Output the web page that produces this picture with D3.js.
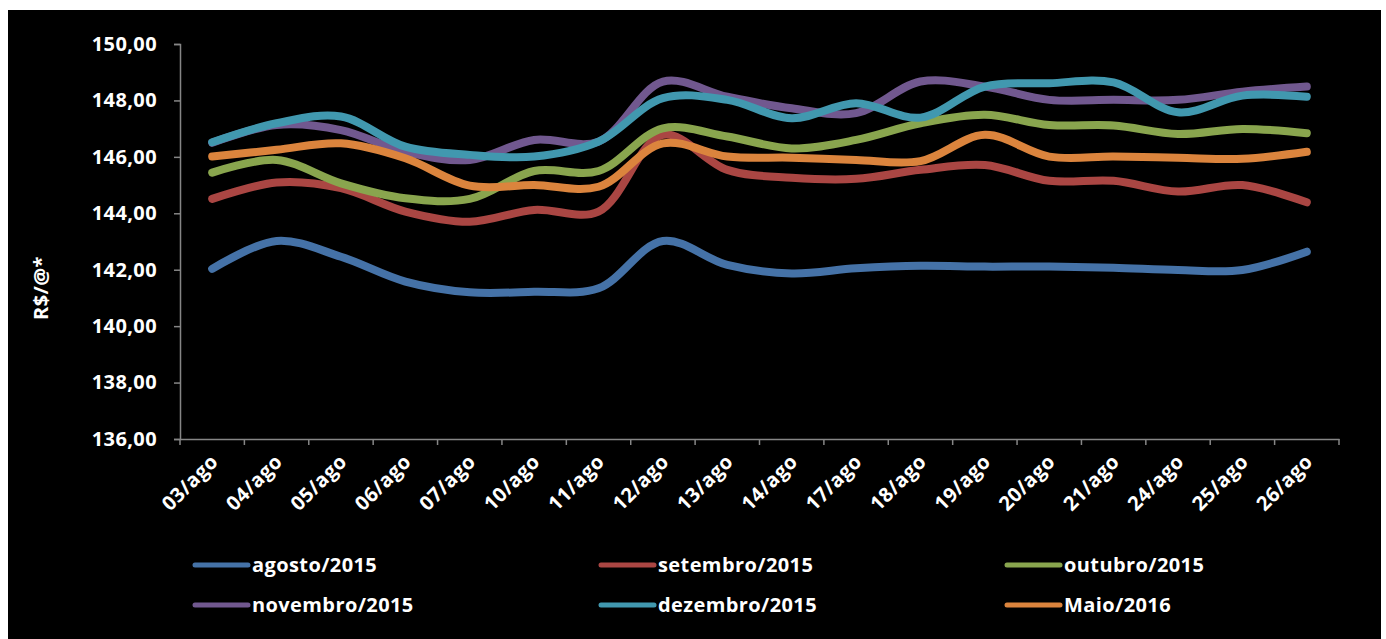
<head></head>
<body style="margin:0; background:#fff;">
    <div id="chart"></div>
    <script src="https://cdn.jsdelivr.net/npm/d3@7"></script>
    <script>
        var width = 1386,
            height = 639;

        var categories = ['03/ago', '04/ago', '05/ago', '06/ago', '07/ago', '10/ago', '11/ago', '12/ago', '13/ago',
            '14/ago', '17/ago', '18/ago', '19/ago', '20/ago', '21/ago', '24/ago', '25/ago', '26/ago'];

        var agosto2015 = [142.03, 143.02, 142.46, 141.58, 141.20, 141.22, 141.34, 143.02, 142.17, 141.87, 142.05, 142.14, 142.11, 142.11, 142.07, 141.99, 141.99, 142.64];
        var setembro2015 = [144.51, 145.09, 144.89, 144.06, 143.70, 144.12, 144.06, 146.78, 145.54, 145.26, 145.22, 145.54, 145.71, 145.15, 145.15, 144.77, 145.00, 144.39];
        var outubro2015 = [145.44, 145.89, 145.06, 144.53, 144.51, 145.50, 145.50, 147.01, 146.72, 146.30, 146.60, 147.19, 147.49, 147.13, 147.11, 146.81, 146.99, 146.84];
        var novembro2015 = [146.50, 147.13, 146.95, 146.18, 145.89, 146.60, 146.54, 148.67, 148.13, 147.72, 147.55, 148.67, 148.49, 148.02, 148.02, 148.02, 148.31, 148.49];
        var dezembro2015 = [146.52, 147.19, 147.43, 146.36, 146.07, 146.01, 146.54, 148.08, 148.02, 147.37, 147.90, 147.39, 148.49, 148.61, 148.64, 147.58, 148.17, 148.13];
        var maio2016 = [146.01, 146.25, 146.48, 145.95, 144.98, 145.00, 144.94, 146.48, 146.01, 145.97, 145.89, 145.85, 146.78, 146.01, 146.01, 145.97, 145.93, 146.18];

        var seriesNames = ['agosto/2015', 'setembro/2015', 'outubro/2015', 'novembro/2015', 'dezembro/2015', 'Maio/2016'];
        var seriesValues = [agosto2015, setembro2015, outubro2015, novembro2015, dezembro2015, maio2016];
        var colors = ['#4572a7', '#aa4643', '#89a54e', '#71588f', '#4198af', '#db843d'];

        var yTicks = [136, 138, 140, 142, 144, 146, 148, 150];

        var series = seriesNames.map(function(n, i){
            return {name: n, values: seriesValues[i], color: colors[i]};
        });

        var svg = d3.select('#chart')
            .append('svg')
            .attr('width', width)
            .attr('height', height)
            .style('display', 'block');

        // black chart area
        svg.append('rect')
            .attr('x', 8).attr('y', 10)
            .attr('width', 1373).attr('height', 629)
            .attr('fill', '#000');

        var x = d3.scaleBand()
            .domain(categories)
            .range([180, 1339]);

        var y = d3.scaleLinear()
            .domain([136, 150])
            .range([439, 44]);

        var font = "'Open Sans', sans-serif";
        var axisColor = '#868686';

        function styleText(sel){
            sel.attr('fill', '#fff')
                .style('font-family', font)
                .style('font-weight', 'bold')
                .style('font-size', '20px')
                .style('letter-spacing', '0.4px');
        }

        // y axis
        var yAxis = svg.append('g')
            .attr('transform', 'translate(180,0)')
            .call(d3.axisLeft(y).tickValues(yTicks).tickSize(6).tickPadding(17)
                .tickFormat(function(d){ return d3.format('.2f')(d).replace('.', ','); }));

        // x axis, ticks between categories
        var xAxis = svg.append('g')
            .attr('transform', 'translate(0,439)')
            .call(d3.axisBottom(x).tickSize(0).tickFormat(''));

        xAxis.selectAll('.tick').remove();
        xAxis.selectAll('.sep')
            .data(d3.range(categories.length + 1))
            .enter().append('line')
            .attr('x1', function(i){ return 180 + i * x.step(); })
            .attr('x2', function(i){ return 180 + i * x.step(); })
            .attr('y1', 0).attr('y2', 6)
            .attr('stroke', axisColor)
            .attr('stroke-width', 1.5);

        svg.selectAll('.domain').attr('stroke', axisColor).attr('stroke-width', 1.5);
        yAxis.selectAll('line').attr('stroke', axisColor).attr('stroke-width', 1.5);
        yAxis.selectAll('text').call(styleText);

        // x labels rotated
        svg.append('g').selectAll('text')
            .data(categories)
            .enter().append('text')
            .attr('transform', function(d){
                return 'translate(' + (x(d) + x.bandwidth() / 2 + 7) + ',463) rotate(-45)';
            })
            .attr('text-anchor', 'end')
            .call(styleText)
            .text(function(d){ return d; });

        // axis title
        svg.append('text')
            .attr('transform', 'translate(48,288) rotate(-90)')
            .attr('text-anchor', 'middle')
            .call(styleText)
            .text('R$/@*');

        var line = d3.line()
            .x(function(d, i){ return x(categories[i]) + x.bandwidth() / 2; })
            .y(function(d){ return y(d); })
            .curve(d3.curveCatmullRom.alpha(0.5));

        svg.append('g').selectAll('path')
            .data(series)
            .enter().append('path')
            .attr('d', function(d){ return line(d.values); })
            .attr('fill', 'none')
            .attr('stroke', function(d){ return d.color; })
            .attr('stroke-width', 8)
            .attr('stroke-linecap', 'round')
            .attr('stroke-linejoin', 'round');

        // legend
        var legendX = [195, 601, 1007],
            legendY = [565, 605];

        var legend = svg.append('g').selectAll('g')
            .data(series)
            .enter().append('g')
            .attr('transform', function(d, i){
                return 'translate(' + legendX[i % 3] + ',' + legendY[Math.floor(i / 3)] + ')';
            });

        legend.append('line')
            .attr('x1', 0).attr('x2', 53)
            .attr('y1', 0).attr('y2', 0)
            .attr('stroke', function(d){ return d.color; })
            .attr('stroke-width', 5)
            .attr('stroke-linecap', 'round');

        legend.append('text')
            .attr('x', 57)
            .attr('y', 0)
            .attr('dy', '0.35em')
            .call(styleText)
            .text(function(d){ return d.name; });
    </script>
</body>
